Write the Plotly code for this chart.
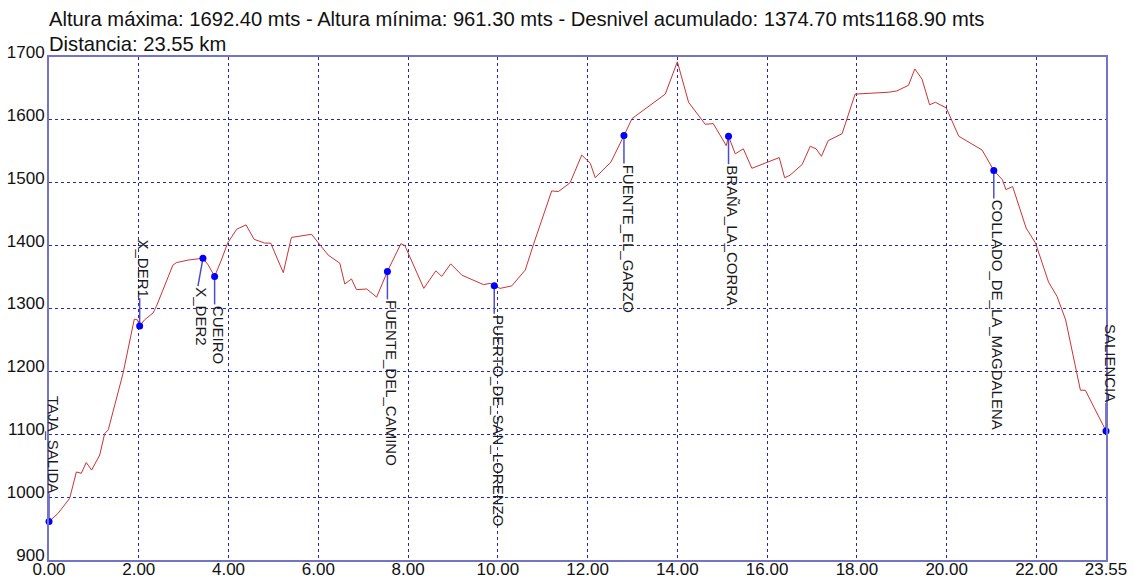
import plotly.graph_objects as go

# ---------------- data ----------------
dist_km = [0.00, 0.20, 0.46, 0.61, 0.72, 0.83, 0.95, 1.13, 1.24, 1.32,
           1.61, 1.65, 1.90, 1.97, 2.02, 2.13, 2.32, 2.39, 2.76, 2.84,
           3.10, 3.43, 3.55, 3.69, 3.84, 3.98, 4.18, 4.39, 4.57, 4.81,
           4.94, 5.22, 5.40, 5.63, 5.85, 6.04, 6.22, 6.48, 6.59, 6.74,
           6.85, 7.08, 7.30, 7.54, 7.84, 7.93, 8.35, 8.62, 8.75, 8.95,
           9.20, 9.68, 9.83, 9.92, 10.05, 10.31, 10.61, 10.79, 11.20, 11.35,
           11.61, 11.87, 12.06, 12.17, 12.52, 12.81, 12.99, 13.73, 14.00, 14.25,
           14.62, 14.80, 15.09, 15.14, 15.29, 15.47, 15.66, 16.27, 16.39, 16.51,
           16.78, 16.96, 17.09, 17.21, 17.36, 17.67, 17.76, 17.89, 17.96, 18.71,
           18.89, 19.15, 19.29, 19.45, 19.62, 19.75, 19.99, 20.27, 20.79, 21.05,
           21.24, 21.32, 21.47, 21.77, 21.98, 22.27, 22.46, 22.65, 22.98, 23.09,
           23.55]

elev_m = [961.3, 974, 998, 1040, 1038, 1055, 1043, 1067, 1101, 1107,
          1186, 1197, 1283, 1282, 1272, 1282, 1293, 1303, 1369, 1373,
          1377, 1380, 1369, 1351, 1377, 1404, 1426, 1433, 1410, 1404,
          1404, 1357, 1413, 1416, 1418, 1401, 1385, 1372, 1339, 1347,
          1330, 1331, 1318, 1359, 1403, 1400, 1332, 1360, 1351, 1371,
          1353, 1338, 1340, 1336, 1332, 1336, 1361, 1401, 1487, 1486,
          1500, 1544, 1531, 1508, 1533, 1575, 1602, 1641, 1692.4, 1628,
          1593, 1594, 1559, 1574, 1546, 1554, 1523, 1540, 1508, 1512,
          1529, 1558, 1554, 1542, 1567, 1578, 1597, 1624, 1641, 1644,
          1646, 1655, 1681, 1665, 1624, 1628, 1619, 1574, 1552, 1519.5,
          1505, 1489, 1494, 1428, 1404, 1342, 1319, 1282, 1170, 1170,
          1105.3]

wp_names = ["TAJA_SALIDA", "X_DER1", "X_DER2", "CUEIRO", "FUENTE_DEL_CAMINO",
            "PUERTO_DE_SAN_LORENZO", "FUENTE_EL_GARZO", "BRAÑA_LA_CORRA",
            "COLLADO_DE_LA_MAGDALENA", "SALIENCIA"]
wp_dist = [0.00, 2.02, 3.43, 3.69, 7.54, 9.92, 12.81, 15.14, 21.05, 23.55]
wp_elev = [961.3, 1272, 1380, 1351, 1359, 1336, 1575, 1574, 1519.5, 1105.3]

x_tick_vals = [0, 2, 4, 6, 8, 10, 12, 14, 16, 18, 20, 22, 23.55]
x_tick_text = ["0.00", "2.00", "4.00", "6.00", "8.00", "10.00", "12.00",
               "14.00", "16.00", "18.00", "20.00", "22.00", "23.55"]
y_tick_vals = [900, 1000, 1100, 1200, 1300, 1400, 1500, 1600, 1700]

title_line1 = ("Altura máxima: 1692.40 mts - Altura mínima: 961.30 mts - "
               "Desnivel acumulado: 1374.70 mts1168.90 mts")
title_line2 = "Distancia: 23.55 km"

# ---------------- layout / style ----------------
W, H = 1134, 583
ML, MR, MT, MB = 49, 28, 57, 23
PW, PH = W - ML - MR, H - MT - MB
XR = [0, 23.55]
YR = [900, 1700]
px_x = (XR[1] - XR[0]) / PW   # km per pixel
px_y = (YR[1] - YR[0]) / PH   # m per pixel

FONT = "Liberation Sans, Arial, sans-serif"
GRID = "#2626B4"
FRAME = "#7474C6"
STEM = "#4E4EC4"

# label placement style: +1 below the point, -1 above; extra horizontal stem shift (px)
label_side = {"TAJA_SALIDA": -1, "X_DER1": -1, "SALIENCIA": -1}
stem_dx_px = {"X_DER2": -5}
STEM_PX = 28

fig = go.Figure()

fig.add_trace(go.Scatter(
    x=dist_km, y=elev_m, mode="lines",
    line=dict(color="#CC3333", width=1),
    hoverinfo="skip", showlegend=False, cliponaxis=False))

# stems
sx, sy = [], []
ends = []
for n, xv, yv in zip(wp_names, wp_dist, wp_elev):
    side = label_side.get(n, 1)
    ex = xv + stem_dx_px.get(n, 0) * px_x
    ey = yv - side * STEM_PX * px_y
    sx += [xv, ex, None]
    sy += [yv, ey, None]
    ends.append((n, ex, ey, side))

fig.add_trace(go.Scatter(
    x=sx, y=sy, mode="lines", line=dict(color=STEM, width=1.5),
    hoverinfo="skip", showlegend=False, cliponaxis=False))

fig.add_trace(go.Scatter(
    x=wp_dist, y=wp_elev, mode="markers",
    marker=dict(color="#0000FF", size=7),
    hoverinfo="skip", showlegend=False, cliponaxis=False))

for n, ex, ey, side in ends:
    fig.add_annotation(
        x=ex, y=ey, text=n, showarrow=False, textangle=90,
        xanchor="center", yanchor="top" if side == 1 else "bottom",
        xshift=4, borderpad=0,
        font=dict(family=FONT, size=15, color="#1A1A1A"))

fig.add_annotation(xref="paper", yref="paper", x=-2 / PW, y=1 + (MT - 19) / PH,
                   xanchor="left", yanchor="middle", showarrow=False,
                   text=title_line1, font=dict(family=FONT, size=20.2, color="#111111"))
fig.add_annotation(xref="paper", yref="paper", x=-2 / PW, y=1 + (MT - 44) / PH,
                   xanchor="left", yanchor="middle", showarrow=False,
                   text=title_line2, font=dict(family=FONT, size=20.2, color="#111111"))

fig.update_layout(
    width=W, height=H,
    margin=dict(l=ML, r=MR, t=MT, b=MB, pad=0, autoexpand=False),
    paper_bgcolor="white", plot_bgcolor="white",
    showlegend=False,
    font=dict(family=FONT, size=17, color="#111111"),
)
fig.update_xaxes(
    range=XR, tickmode="array", tickvals=x_tick_vals, ticktext=x_tick_text,
    showgrid=True, gridcolor=GRID, griddash="3px,3px", gridwidth=1,
    zeroline=False, showline=True, linecolor=FRAME, linewidth=2, mirror=True,
    ticks="", ticklabelstandoff=-7, automargin=False,
    tickfont=dict(family=FONT, size=17, color="#111111"))
fig.update_yaxes(
    range=YR, tickmode="array", tickvals=y_tick_vals,
    showgrid=True, gridcolor=GRID, griddash="3px,3px", gridwidth=1,
    zeroline=False, showline=True, linecolor=FRAME, linewidth=2, mirror=True,
    ticks="", ticklabelstandoff=-1, ticklabelshift=-5, automargin=False,
    tickfont=dict(family=FONT, size=17, color="#111111"))

fig.write_html(
    "out.html",
    config={"displayModeBar": False},
    post_script="document.body.style.margin='0';document.body.style.overflow='hidden';",
)
